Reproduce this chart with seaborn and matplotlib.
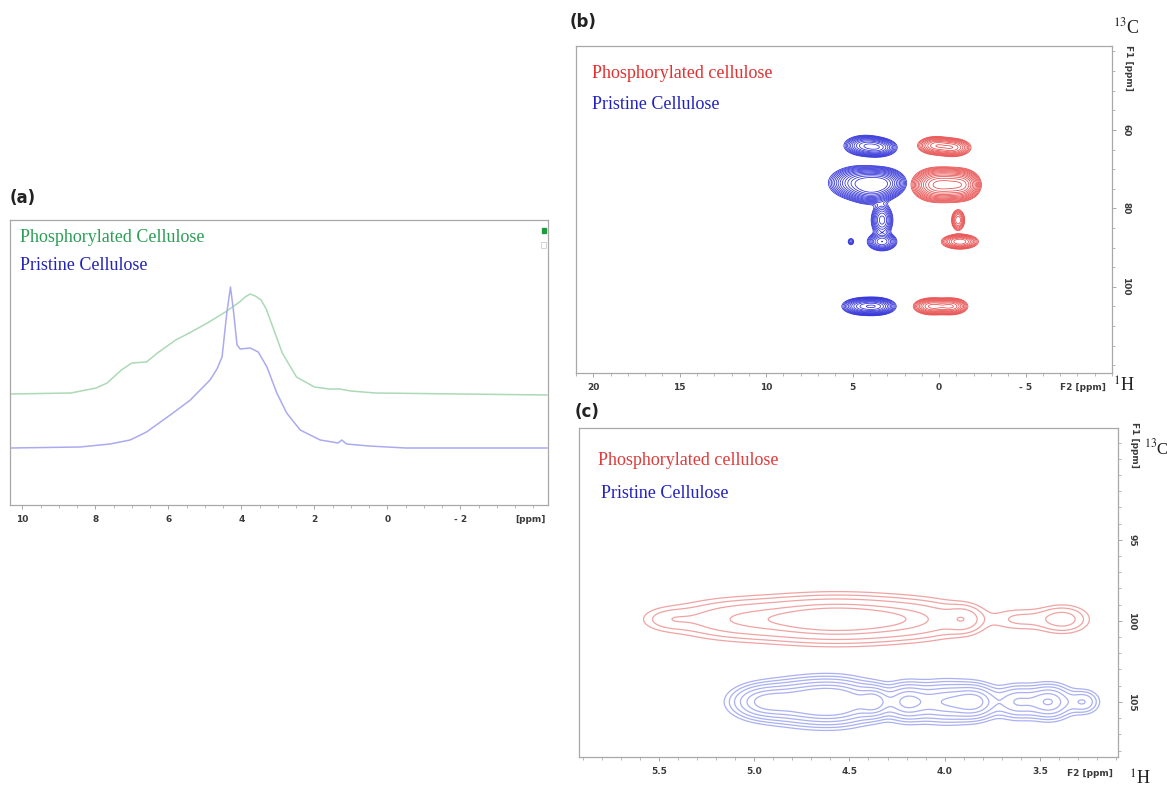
import numpy as np
import matplotlib
matplotlib.use("Agg")
import matplotlib.pyplot as plt
import seaborn as sns
import pandas as pd
from matplotlib.ticker import MultipleLocator, FixedLocator, FixedFormatter

# ---------------- data ----------------
# (a) 1H spectra (ppm, intensity in arbitrary units)
a_green_ppm = [10.34, 8.67, 7.98, 7.68, 7.29, 7.0, 6.6, 6.3, 5.8, 5.43, 4.93, 4.44, 4.05, 3.9, 3.76,
               3.62, 3.46, 3.32, 3.18, 2.88, 2.49, 2.0, 1.6, 1.31, 1.0, 0.33, -4.38]
a_green_int = [111, 112, 117, 122, 135, 142, 143, 152, 165, 172, 182, 193, 203, 208, 211,
               209, 205, 196, 182, 152, 128, 118, 116, 116, 114, 112, 110]
a_blue_ppm = [10.34, 8.42, 7.6, 7.05, 6.6, 6.14, 5.8, 5.4, 4.86, 4.67, 4.53, 4.40, 4.30, 4.22, 4.12,
              4.03, 3.76, 3.54, 3.3, 3.03, 2.76, 2.39, 1.84, 1.35, 1.25, 1.12, 0.5, -0.5, -4.38]
a_blue_int = [57, 58, 61, 65, 73, 85, 94, 105, 125, 136, 148, 192, 218, 195, 160,
              156, 157, 153, 138, 112, 92, 75, 65, 62, 65, 61, 59, 57, 57]
a_ticks = [10, 8, 6, 4, 2, 0, -2]
a_ticklabels = ["10", "8", "6", "4", "2", "0", "- 2"]

# (b) HETCOR cross peaks: 1H ppm, 13C ppm, width 1H, width 13C, amplitude
b_blue_h = [4.3, 3.5, 4.6, 3.9, 3.2, 3.3, 3.3, 5.1, 4.4, 3.6]
b_blue_c = [64.0, 64.5, 73.5, 74.5, 73.5, 83.0, 88.5, 88.5, 105.0, 105.0]
b_blue_sh = [0.55, 0.5, 0.75, 0.6, 0.55, 0.3, 0.4, 0.12, 0.55, 0.5]
b_blue_sc = [1.2, 1.1, 1.8, 1.8, 1.6, 2.0, 1.1, 0.6, 1.0, 1.0]
b_blue_a = [0.55, 0.5, 0.9, 1.0, 0.8, 0.45, 0.5, 0.12, 0.6, 0.6]

b_red_h = [0.2, -0.8, 0.3, -0.6, -1.4, -1.1, -1.2, 0.4, -0.7]
b_red_c = [64.0, 64.5, 74.0, 74.0, 74.0, 83.0, 88.5, 105.0, 105.0]
b_red_sh = [0.5, 0.5, 0.55, 0.55, 0.45, 0.2, 0.5, 0.5, 0.45]
b_red_sc = [1.1, 1.1, 1.8, 1.8, 1.7, 1.4, 0.9, 1.0, 1.0]
b_red_a = [0.45, 0.45, 0.9, 0.9, 0.7, 0.3, 0.5, 0.55, 0.5]

# (c) anomeric region cross peaks
c_red_h = [5.45, 5.1, 4.7, 4.45, 4.15, 3.9, 3.6, 3.38]
c_red_c = [99.9, 99.9, 99.9, 99.9, 99.9, 99.9, 99.9, 99.9]
c_red_sh = [0.09, 0.2, 0.22, 0.2, 0.18, 0.06, 0.1, 0.08]
c_red_sc = [0.45, 0.7, 0.75, 0.75, 0.7, 0.5, 0.45, 0.5]
c_red_a = [0.25, 0.6, 1.0, 0.85, 0.6, 0.5, 0.25, 0.55]

c_blue_h = [4.95, 4.72, 4.55, 4.37, 4.2, 4.0, 3.84, 3.62, 3.45, 3.27]
c_blue_c = [105.0, 105.0, 105.0, 105.0, 105.0, 105.0, 105.0, 105.0, 105.0, 105.0]
c_blue_sh = [0.1, 0.14, 0.12, 0.05, 0.07, 0.1, 0.07, 0.07, 0.07, 0.05]
c_blue_sc = [0.6, 0.75, 0.75, 0.55, 0.65, 0.7, 0.6, 0.6, 0.6, 0.45]
c_blue_a = [0.8, 1.0, 0.95, 0.75, 0.85, 0.8, 0.85, 0.6, 0.85, 0.4]

# ---------------- style ----------------
sns.set_theme(style="white")
plt.rcParams["font.family"] = ["DejaVu Sans"]

W, H = 1167, 787
fig = plt.figure(figsize=(W / 100, H / 100), dpi=100)


def rect(l, t, r, b):
    return [l / W, 1 - b / H, (r - l) / W, (b - t) / H]


def px(x, y):
    return x / W, 1 - y / H


SPINE = "#a8a8a8"
TICKC = "#9a9a9a"
LABC = "#3a3a3a"
serif = ["Liberation Serif", "DejaVu Serif"]
LEGFS = 13


def field(hgrid, cgrid, hs, cs, shs, scs, amps):
    Z = np.zeros_like(hgrid)
    for h, c, sh, sc, a in zip(hs, cs, shs, scs, amps):
        Z += a * np.exp(-0.5 * ((hgrid - h) / sh) ** 2 - 0.5 * ((cgrid - c) / sc) ** 2)
    return Z


def style_box(ax):
    for s in ax.spines.values():
        s.set_color(SPINE)
        s.set_linewidth(0.9)
    ax.grid(False)


# ---------------- (a) ----------------
axa = fig.add_axes(rect(10, 220, 548, 505))
dfa = pd.DataFrame({"ppm": a_green_ppm + a_blue_ppm,
                    "intensity": a_green_int + a_blue_int,
                    "sample": ["Phosphorylated"] * len(a_green_ppm) + ["Pristine"] * len(a_blue_ppm)})
sns.lineplot(data=dfa, x="ppm", y="intensity", hue="sample", sort=False, estimator=None,
             palette={"Phosphorylated": "#acd9b6", "Pristine": "#aaaaf0"}, linewidth=1.1,
             legend=False, ax=axa)
axa.set_xlim(10.34, -4.4)
axa.set_ylim(0, 285)
style_box(axa)
axa.set_xlabel("")
axa.set_ylabel("")
axa.set_yticks([])
axa.xaxis.set_major_locator(FixedLocator(a_ticks))
axa.xaxis.set_major_formatter(FixedFormatter(a_ticklabels))
axa.xaxis.set_minor_locator(MultipleLocator(0.5))
axa.tick_params(axis="x", which="both", bottom=True, direction="out", color=TICKC,
                labelsize=6.5, labelcolor=LABC, pad=4)
axa.tick_params(axis="x", which="major", length=3, width=0.6)
axa.tick_params(axis="x", which="minor", length=2, width=0.5)
for t in axa.get_xticklabels():
    t.set_fontweight("bold")
axa.text(0.018, 0.94, "Phosphorylated Cellulose", transform=axa.transAxes,
         color="#2c9d55", fontsize=LEGFS, family=serif, va="center", ha="left")
axa.text(0.018, 0.84, "Pristine Cellulose", transform=axa.transAxes,
         color="#2323b4", fontsize=LEGFS, family=serif, va="center", ha="left")
fig.text(*px(530, 520), "[ppm]", fontsize=6.5, fontweight="bold", color=LABC, ha="center", va="center")
fig.text(*px(10, 198), "(a)", fontsize=12, fontweight="bold", color="#222222", ha="left", va="center")
fig.patches.append(plt.Rectangle(px(542, 233), 4 / W, 5 / H, transform=fig.transFigure,
                                 color="#1f9a3f", figure=fig))
fig.patches.append(plt.Rectangle(px(541, 248), 5 / W, 6 / H, transform=fig.transFigure,
                                 fill=False, edgecolor="#cfcfcf", linewidth=0.6, figure=fig))


def style_2d(ax, xmaj, xmin, ymaj, ymin, xfmt):
    style_box(ax)
    ax.yaxis.tick_right()
    ax.xaxis.set_major_locator(FixedLocator(xmaj))
    ax.xaxis.set_major_formatter(FixedFormatter(xfmt))
    ax.xaxis.set_minor_locator(MultipleLocator(xmin))
    ax.yaxis.set_major_locator(FixedLocator(ymaj))
    ax.yaxis.set_minor_locator(MultipleLocator(ymin))
    ax.tick_params(axis="both", which="both", direction="out", color=TICKC,
                   labelsize=6.5, labelcolor=LABC)
    ax.tick_params(axis="x", which="both", bottom=True, top=False, pad=4)
    ax.tick_params(axis="y", which="both", right=True, left=False, labelright=True, labelleft=False)
    ax.tick_params(which="major", length=3, width=0.6)
    ax.tick_params(which="minor", length=2, width=0.5)
    for t in ax.get_xticklabels() + ax.get_yticklabels():
        t.set_fontweight("bold")
    for t in ax.get_yticklabels():
        t.set_rotation(-90)
        t.set_va("center")
    ax.set_xlabel("")
    ax.set_ylabel("")


# ---------------- (b) ----------------
axb = fig.add_axes(rect(576, 46, 1112, 373))
hb = np.linspace(-10, 21, 700)
cb = np.linspace(38.6, 122, 500)
HB, CB = np.meshgrid(hb, cb)
Zb_blue = field(HB, CB, b_blue_h, b_blue_c, b_blue_sh, b_blue_sc, b_blue_a)
Zb_red = field(HB, CB, b_red_h, b_red_c, b_red_sh, b_red_sc, b_red_a)
lev_b = np.geomspace(0.05, 1.1, 13)
axb.contour(HB, CB, Zb_blue, levels=lev_b, colors="#2a2ad8", linewidths=0.55)
axb.contour(HB, CB, Zb_red, levels=lev_b, colors="#e84848", linewidths=0.55)
axb.set_xlim(21, -10)
axb.set_ylim(122, 38.6)
style_2d(axb, [20, 15, 10, 5, 0, -5], 1, [60, 80, 100], 5,
         ["20", "15", "10", "5", "0", "- 5"])
axb.text(0.03, 0.915, "Phosphorylated cellulose", transform=axb.transAxes,
         color="#e23030", fontsize=LEGFS, family=serif, va="center", ha="left")
axb.text(0.03, 0.82, "Pristine Cellulose", transform=axb.transAxes,
         color="#2222c0", fontsize=LEGFS, family=serif, va="center", ha="left")
fig.text(*px(570, 22), "(b)", fontsize=12, fontweight="bold", color="#222222", ha="left", va="center")
fig.text(*px(1126, 27), r"$^{13}$C", fontsize=13, family=serif, color="#222222", ha="center", va="center",
         math_fontfamily="stix")
fig.text(*px(1128, 68), "F1 [ppm]", fontsize=6.5, fontweight="bold", color=LABC, rotation=-90,
         ha="center", va="center")
fig.text(*px(1083, 388), "F2 [ppm]", fontsize=6.5, fontweight="bold", color=LABC, ha="center", va="center")
fig.text(*px(1124, 386), r"$^{1}$H", fontsize=13, family=serif, color="#222222", ha="center", va="center",
         math_fontfamily="stix")

# ---------------- (c) ----------------
axc = fig.add_axes(rect(579, 428, 1118, 757))
hc = np.linspace(3.0, 6.0, 700)
cc = np.linspace(88.0, 108.5, 500)
HC, CC = np.meshgrid(hc, cc)
Zc_red = field(HC, CC, c_red_h, c_red_c, c_red_sh, c_red_sc, c_red_a)
Zc_blue = field(HC, CC, c_blue_h, c_blue_c, c_blue_sh, c_blue_sc, c_blue_a)
axc.contour(HC, CC, Zc_red, levels=[0.12, 0.22, 0.4, 0.75, 1.05], colors="#f0a3a3", linewidths=0.9)
axc.contour(HC, CC, Zc_blue, levels=[0.1, 0.17, 0.27, 0.42, 0.62, 0.85], colors="#aab0f2", linewidths=0.9)
axc.set_xlim(5.92, 3.09)
axc.set_ylim(108.4, 88.1)
style_2d(axc, [5.5, 5.0, 4.5, 4.0, 3.5], 0.1, [95, 100, 105], 1,
         ["5.5", "5.0", "4.5", "4.0", "3.5"])
axc.text(0.035, 0.9, "Phosphorylated cellulose", transform=axc.transAxes,
         color="#e03a3a", fontsize=LEGFS, family=serif, va="center", ha="left")
axc.text(0.04, 0.8, "Pristine Cellulose", transform=axc.transAxes,
         color="#2222c0", fontsize=LEGFS, family=serif, va="center", ha="left")
fig.text(*px(575, 412), "(c)", fontsize=12, fontweight="bold", color="#222222", ha="left", va="center")
fig.text(*px(1156, 448), r"$^{13}$C", fontsize=12, family=serif, color="#222222", ha="center", va="center",
         math_fontfamily="stix")
fig.text(*px(1134, 445), "F1 [ppm]", fontsize=6.5, fontweight="bold", color=LABC, rotation=-90,
         ha="center", va="center")
fig.text(*px(1090, 774), "F2 [ppm]", fontsize=6.5, fontweight="bold", color=LABC, ha="center", va="center")
fig.text(*px(1140, 779), r"$^{1}$H", fontsize=13, family=serif, color="#222222", ha="center", va="center",
         math_fontfamily="stix")

fig.savefig("out.png", dpi=100, facecolor="white")
